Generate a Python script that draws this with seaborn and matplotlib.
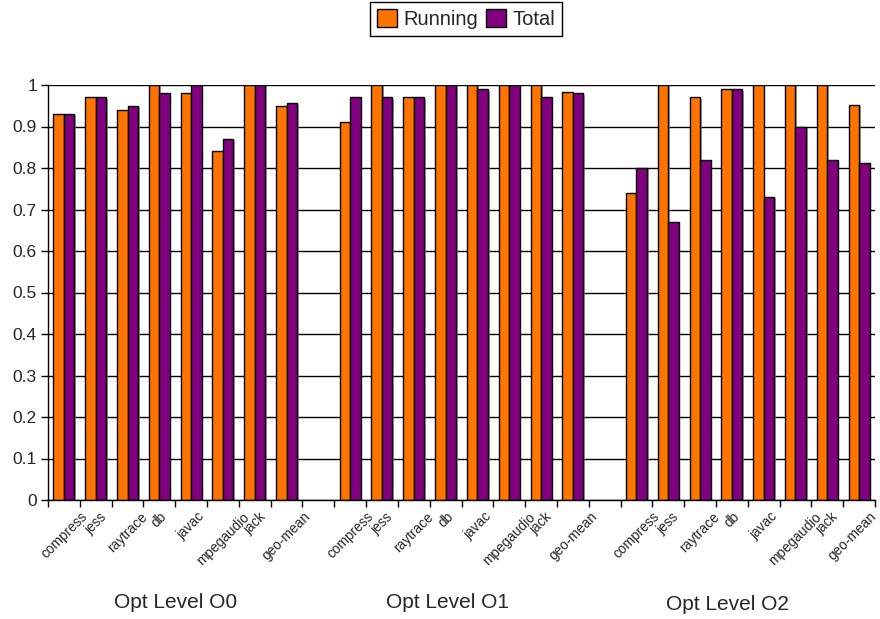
import numpy as np
import pandas as pd
import matplotlib
matplotlib.use("Agg")
import matplotlib.pyplot as plt
import matplotlib.patheffects as pe
from matplotlib.patches import Patch
import seaborn as sns

# ---- data -------------------------------------------------------------
benchmarks = ["compress", "jess", "raytrace", "db", "javac",
              "mpegaudio", "jack", "geo-mean"]
levels = ["Opt Level O0", "Opt Level O1", "Opt Level O2"]
series = ["Running", "Total"]

running_o0 = [0.93, 0.97, 0.94, 1.00, 0.98, 0.84, 1.00, 0.950]
total_o0   = [0.93, 0.97, 0.95, 0.98, 1.00, 0.87, 1.00, 0.956]
running_o1 = [0.91, 1.00, 0.97, 1.00, 1.00, 1.00, 1.00, 0.982]
total_o1   = [0.97, 0.97, 0.97, 1.00, 0.99, 1.00, 0.97, 0.980]
running_o2 = [0.74, 1.00, 0.97, 0.99, 1.00, 1.00, 1.00, 0.953]
total_o2   = [0.80, 0.67, 0.82, 0.99, 0.73, 0.90, 0.82, 0.812]

y_ticks = [0.0, 0.1, 0.2, 0.3, 0.4, 0.5, 0.6, 0.7, 0.8, 0.9, 1.0]
y_tick_labels = ["0", "0.1", "0.2", "0.3", "0.4", "0.5",
                 "0.6", "0.7", "0.8", "0.9", "1"]

colors = ["#FF7300", "#800080"]

# ---- table: one slot per benchmark, plus an empty slot between levels ---
level_values = [(running_o0, total_o0), (running_o1, total_o1),
                (running_o2, total_o2)]
rows, order, slot_names = [], [], []
for i, (lvl, (run, tot)) in enumerate(zip(levels, level_values)):
    for b, r, t in zip(benchmarks, run, tot):
        slot = f"{lvl}|{b}"
        order.append(slot)
        slot_names.append(b)
        rows.append((slot, "Running", r))
        rows.append((slot, "Total", t))
    if i < len(levels) - 1:
        order.append(f"gap{i}")
        slot_names.append("")
df = pd.DataFrame(rows, columns=["slot", "series", "value"])

# ---- figure -----------------------------------------------------------
sns.set_theme(style="white")
plt.rcParams["font.family"] = ["Liberation Sans", "DejaVu Sans"]

fig = plt.figure(figsize=(8.8, 6.19), dpi=100)
ax = fig.add_axes([48 / 880, 1 - 500 / 619, 827 / 880, 415 / 619])

sns.barplot(data=df, x="slot", y="value", hue="series", order=order,
            hue_order=series, palette=colors, saturation=1, width=0.66,
            edgecolor="black", linewidth=1, legend=False, ax=ax)

shadow = [pe.SimplePatchShadow(offset=(1.2, -1.0), shadow_rgbFace="#808080",
                               alpha=0.7), pe.Normal()]
for p in ax.patches:
    p.set_path_effects(shadow)

n = len(order)
ax.set_xlim(-0.5, n - 0.5)
ax.set_ylim(0, 1)
ax.set_xlabel("")
ax.set_ylabel("")

# category labels at slot centres, tick marks at slot boundaries;
# the right-most caption is drawn separately, nudged inside the canvas
tick_fs = 9.8
ax.set_xticks(np.arange(n))
ax.set_xticklabels(slot_names[:-1] + [""], rotation=45, ha="center",
                   va="top", fontsize=tick_fs)
ax.set_xticks(np.arange(-0.5, n, 1.0), minor=True)
ax.tick_params(axis="x", which="major", length=0, pad=7)
ax.tick_params(axis="x", which="minor", length=5, width=1,
               color="black", direction="out", bottom=True)
ax.annotate(slot_names[-1], xy=(n - 1, 0), xycoords=("data", "axes fraction"),
            xytext=(-5, -7), textcoords="offset points", rotation=45,
            ha="center", va="top", fontsize=tick_fs, annotation_clip=False)

ax.set_yticks(y_ticks)
ax.set_yticklabels(y_tick_labels, fontsize=12.5)
ax.tick_params(axis="y", length=5, width=1, color="black",
               direction="out", left=True, pad=3)

ax.yaxis.grid(True, color="black", linewidth=1)
ax.set_axisbelow(True)
for side in ("top", "right"):
    ax.spines[side].set_visible(False)
for side in ("left", "bottom"):
    ax.spines[side].set_color("black")
    ax.spines[side].set_linewidth(1)

# optimisation level captions
for lvl, xpix, ypix in zip(levels, [176, 447, 727], [603, 603, 605]):
    fig.text(xpix / 880, 1 - ypix / 619, lvl, ha="center", va="center",
             fontsize=15)

handles = [Patch(facecolor=c, edgecolor="black", linewidth=1) for c in colors]
leg = fig.legend(handles, series, loc="center",
                 bbox_to_anchor=(466 / 880, 1 - 19 / 619), ncol=2,
                 fontsize=14.5, frameon=True, fancybox=False,
                 edgecolor="black", framealpha=1, handlelength=1.0,
                 handleheight=1.0, handletextpad=0.3, columnspacing=0.4,
                 borderpad=0.35, borderaxespad=0)
leg.get_frame().set_linewidth(1)

fig.savefig("out.png", dpi=100)
